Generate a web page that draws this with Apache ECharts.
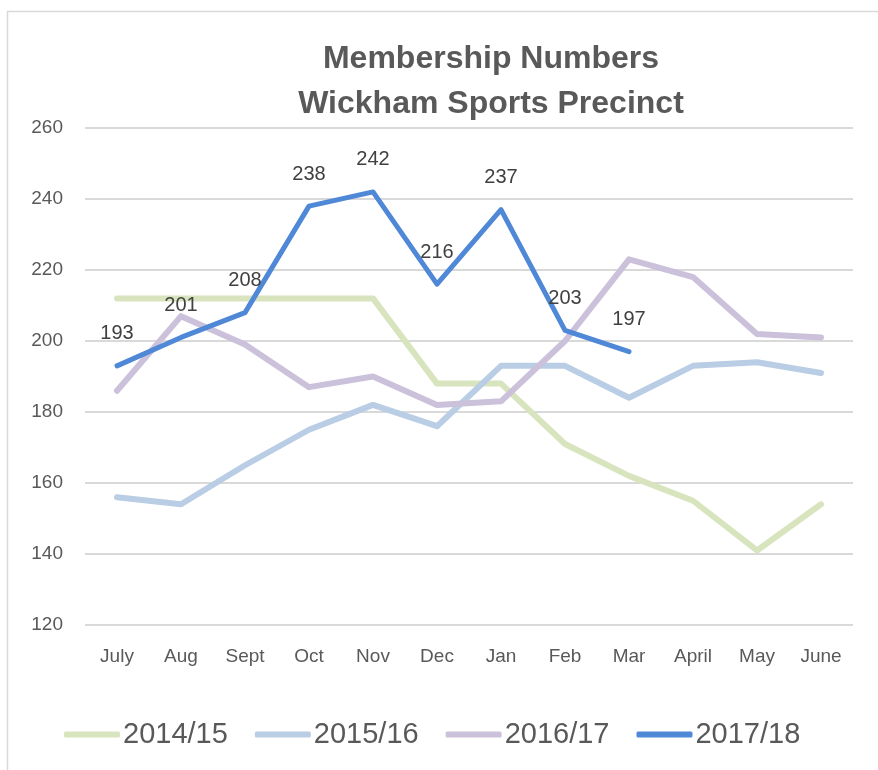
<!DOCTYPE html>
<html>
<head>
<meta charset="utf-8">
<script src="https://cdn.jsdelivr.net/npm/echarts@6/dist/echarts.min.js"></script>
<style>
  html, body { margin: 0; padding: 0; background: #fff; }
  #chart { width: 878px; height: 770px; }
</style>
</head>
<body>
<div id="chart"></div>
<script>
// months of the season
var months = ["July", "Aug", "Sept", "Oct", "Nov", "Dec", "Jan", "Feb", "Mar", "April", "May", "June"];
var seriesNames = ["2014/15", "2015/16", "2016/17", "2017/18"];
var members1415 = [212, 212, 212, 212, 212, 188, 188, 171, 162, 155, 141, 154];
var members1516 = [156, 154, 165, 175, 182, 176, 193, 193, 184, 193, 194, 191];
var members1617 = [186, 207, 199, 187, 190, 182, 183, 200, 223, 218, 202, 201];
var members1718 = [193, 201, 208, 238, 242, 216, 237, 203, 197];
var yTicks = [120, 140, 160, 180, 200, 220, 240, 260];

var colors = ["#d7e4bd", "#b9cde5", "#ccc1da", "#4f88d6"];
var textColor = "#595959";
var fontFam = "Liberation Sans, Arial, sans-serif";

var chart = echarts.init(document.getElementById("chart"));

function lineSeries(name, data, idx, withLabels) {
  return {
    name: name,
    type: "line",
    data: data,
    symbol: "circle",
    symbolSize: withLabels ? 2 : 0,
    showSymbol: withLabels,
    itemStyle: { color: colors[idx] },
    lineStyle: { color: colors[idx], width: withLabels ? 5 : 6, cap: "round", join: "round" },
    label: {
      show: withLabels,
      position: "top",
      distance: 21,
      color: "#404040",
      fontSize: 20,
      fontFamily: fontFam
    },
    emphasis: { disabled: true },
    z: 2 + idx
  };
}

chart.setOption({
  animation: false,
  color: colors,
  title: {
    text: "Membership Numbers\nWickham Sports Precinct",
    left: 486,
    textAlign: "center",
    top: 32,
    textStyle: {
      color: textColor,
      fontSize: 32,
      fontWeight: "bold",
      fontFamily: fontFam,
      lineHeight: 45
    }
  },
  legend: {
    bottom: 16,
    left: 59,
    itemWidth: 56,
    itemHeight: 6,
    itemGap: 27,
    icon: "roundRect",
    data: seriesNames,
    textStyle: { color: textColor, fontSize: 29, fontFamily: fontFam, padding: [0, 0, 0, -2] }
  },
  grid: { left: 85, right: 25, top: 128, bottom: 145 },
  xAxis: {
    type: "category",
    data: months,
    boundaryGap: true,
    axisLine: { show: false },
    axisTick: { show: false },
    axisLabel: { color: textColor, fontSize: 19, fontFamily: fontFam, margin: 22 }
  },
  yAxis: {
    type: "value",
    min: yTicks[0],
    max: yTicks[yTicks.length - 1],
    interval: 20,
    axisLine: { show: false },
    axisTick: { show: false },
    axisLabel: { color: textColor, fontSize: 19, fontFamily: fontFam, margin: 22 },
    splitLine: { lineStyle: { color: "#d9d9d9", width: 2 } }
  },
  graphic: [{
    type: "rect",
    shape: { x: 7.5, y: 11.5, width: 900, height: 800 },
    style: { fill: "none", stroke: "#d9d9d9", lineWidth: 1.5 },
    silent: true
  }],
  series: [
    lineSeries(seriesNames[0], members1415, 0, false),
    lineSeries(seriesNames[1], members1516, 1, false),
    lineSeries(seriesNames[2], members1617, 2, false),
    lineSeries(seriesNames[3], members1718, 3, true)
  ]
});
</script>
</body>
</html>
